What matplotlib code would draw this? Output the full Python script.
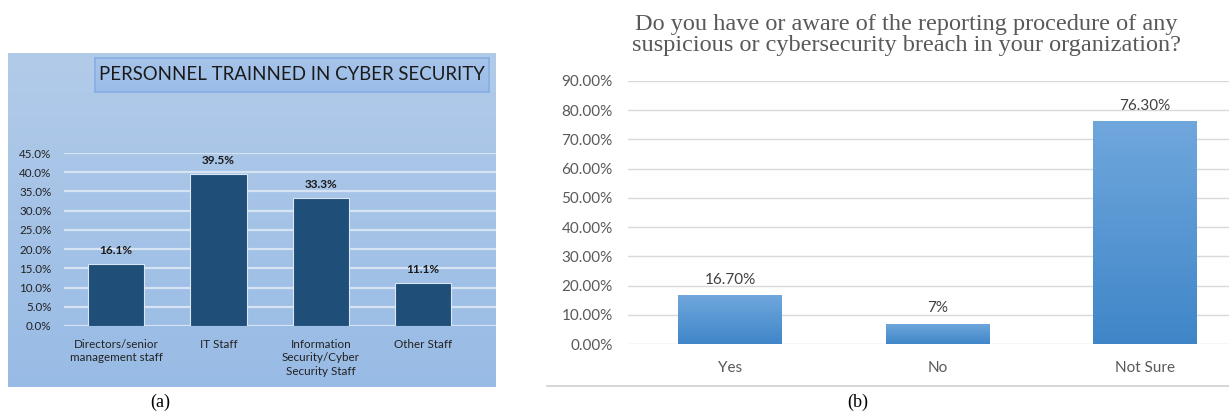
import matplotlib
matplotlib.use("Agg")
import matplotlib.pyplot as plt
import numpy as np
from matplotlib.colors import LinearSegmentedColormap

# ---- data ----
cats_a = ["Directors/senior\nmanagement staff", "IT Staff",
          "Information\nSecurity/Cyber\nSecurity Staff", "Other Staff"]
vals_a = [16.1, 39.5, 33.3, 11.1]
title_a = "PERSONNEL TRAINNED IN CYBER SECURITY"

cats_b = ["Yes", "No", "Not Sure"]
vals_b = [16.7, 7.0, 76.3]
labels_b = ["16.70%", "7%", "76.30%"]
title_b = ("Do you have or aware of the reporting procedure of any\n"
           "suspicious or cybersecurity breach in your organization?")

W, H = 1229, 412
fig = plt.figure(figsize=(W / 100, H / 100), dpi=100)
fig.patch.set_facecolor("white")


def rect(l, t, r, b):
    return [l / W, 1 - b / H, (r - l) / W, (b - t) / H]


# ---------------- panel (a) ----------------
bg = fig.add_axes(rect(8, 53, 496, 387))
grad = np.linspace(0, 1, 256).reshape(-1, 1)
cm_bg = LinearSegmentedColormap.from_list("bg", ["#b2cbe9", "#98bbe5"])
bg.imshow(grad, aspect="auto", cmap=cm_bg, extent=[0, 1, 0, 1], origin="upper")
bg.set_axis_off()

# title box
tb = fig.add_axes(rect(95, 58, 489, 92))
cm_tb = LinearSegmentedColormap.from_list("tb", ["#a7c4ea", "#9bbde8"])
tb.imshow(grad, aspect="auto", cmap=cm_tb, extent=[0, 1, 0, 1], origin="upper")
tb.set_xticks([]); tb.set_yticks([])
for s in tb.spines.values():
    s.set_color("#86aee3"); s.set_linewidth(1.2)
tb.text(0.5, 0.5, title_a, ha="center", va="center", fontsize=13.4,
        family="Lato", color="#1a1a1a", transform=tb.transAxes)

axa = fig.add_axes(rect(64, 153, 496, 326))
axa.set_facecolor("none")
xa = np.arange(len(cats_a))
axa.bar(xa, vals_a, width=0.55, color="#1f4e79", edgecolor="#dbe6f3",
        linewidth=0.8, zorder=3)
axa.set_ylim(0, 45)
axa.set_xlim(-0.508, 3.71)
axa.set_yticks(np.arange(0, 46, 5))
axa.set_yticklabels([f"{v:.1f}%" for v in np.arange(0, 46, 5)])
axa.yaxis.grid(True, color="#d6e3f3", linewidth=1.6, zorder=0)
axa.set_axisbelow(True)
axa.set_xticks(xa)
axa.set_xticklabels(cats_a, linespacing=1.3)
for s in axa.spines.values():
    s.set_visible(False)
axa.tick_params(axis="both", length=0, labelsize=8.4, colors="#222222")
axa.tick_params(axis="y", pad=9)
axa.tick_params(axis="x", pad=9)
for lab in axa.get_xticklabels() + axa.get_yticklabels():
    lab.set_family("Lato")
for x, v in zip(xa, vals_a):
    axa.annotate(f"{v:.1f}%", (x, v), xytext=(0, 6), textcoords="offset points",
                 ha="center", va="bottom", fontsize=8.5, fontweight="bold",
                 family="Lato", color="#1a1a1a")

fig.text(160 / W, 1 - 402 / H, "(a)", ha="center", va="center",
         fontsize=13, family="Liberation Serif")

# ---------------- panel (b) ----------------
fig.text(906 / W, 1 - 35 / H, title_b, ha="center", va="center",
         fontsize=17.5, family="Liberation Serif", color="#595959",
         linespacing=0.95)

axb = fig.add_axes(rect(628, 81, 1229, 344))
axb.set_facecolor("none")
xb = np.arange(len(cats_b))
bars = axb.bar(xb, vals_b, width=0.5, color="#5296d5", linewidth=0, zorder=3)
cm_bar = LinearSegmentedColormap.from_list("bar", ["#70a7dd", "#3f86c8"])
for bar in bars:
    x0, y0 = bar.get_x(), bar.get_y()
    w, h = bar.get_width(), bar.get_height()
    im = axb.imshow(grad, aspect="auto", cmap=cm_bar,
                    extent=[x0, x0 + w, y0, y0 + h], origin="upper", zorder=4)
    im.set_clip_path(bar)
axb.set_ylim(0, 90)
axb.set_xlim(-0.4916, 2.405)
axb.set_yticks(np.arange(0, 91, 10))
axb.set_yticklabels([f"{v:.2f}%" for v in np.arange(0, 91, 10)])
axb.yaxis.grid(True, color="#d9d9d9", linewidth=1.0, zorder=0)
axb.set_axisbelow(True)
axb.set_xticks(xb)
axb.set_xticklabels(cats_b)
for s in axb.spines.values():
    s.set_visible(False)
axb.tick_params(axis="both", length=0, labelsize=11, colors="#595959")
axb.tick_params(axis="y", pad=11)
axb.tick_params(axis="x", pad=12)
for lab in axb.get_xticklabels() + axb.get_yticklabels():
    lab.set_family("Lato")
for x, v, t in zip(xb, vals_b, labels_b):
    axb.annotate(t, (x, v), xytext=(0, 6), textcoords="offset points",
                 ha="center", va="bottom", fontsize=11, family="Lato",
                 color="#404040")

fig.add_artist(plt.Line2D([547 / W, 1.0], [1 - 386 / H, 1 - 386 / H],
                          color="#d0d0d0", linewidth=1.2))
fig.text(858 / W, 1 - 402 / H, "(b)", ha="center", va="center",
         fontsize=13, family="Liberation Serif")

fig.savefig("out.png", dpi=100)
